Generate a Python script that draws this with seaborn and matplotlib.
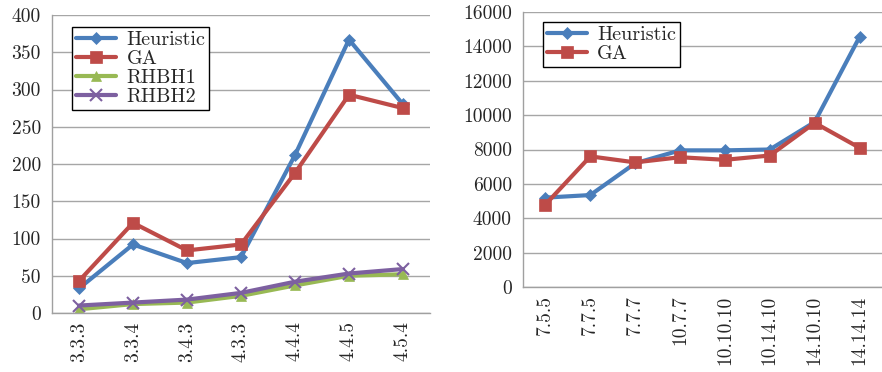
import numpy as np
import pandas as pd
import matplotlib
matplotlib.use("Agg")
import matplotlib.pyplot as plt
import seaborn as sns
from matplotlib.ticker import FixedLocator

# Left chart data
left_cats = ["3.3.3", "3.3.4", "3.4.3", "4.3.3", "4.4.4", "4.4.5", "4.5.4"]
left_heuristic = [33, 92, 67, 75, 212, 367, 280]
left_ga = [43, 121, 84, 92, 188, 293, 275]
left_rhbh1 = [5, 12, 14, 23, 37, 50, 52]
left_rhbh2 = [10, 14, 18, 27, 42, 53, 59]

# Right chart data
right_cats = ["7.5.5", "7.7.5", "7.7.7", "10.7.7", "10.10.10", "10.14.10", "14.10.10", "14.14.14"]
right_heuristic = [5200, 5350, 7200, 7950, 7950, 8000, 9600, 14550]
right_ga = [4800, 7600, 7250, 7550, 7400, 7650, 9550, 8100]

colors = {"Heuristic": "#4A7EBB", "GA": "#BE4B48", "RHBH1": "#98B954", "RHBH2": "#7D60A0"}
markers = {"Heuristic": "D", "GA": "s", "RHBH1": "^", "RHBH2": "x"}
msizes = {"Heuristic": 6, "GA": 8, "RHBH1": 7, "RHBH2": 8}

sns.set_style("white")
plt.rcParams["font.family"] = ["cmr10", "DejaVu Serif"]
plt.rcParams["axes.unicode_minus"] = False
plt.rcParams["mathtext.fontset"] = "cm"


def draw(ax, cats, series, ymax, ystep):
    rows = []
    for name, vals in series.items():
        for c, v in zip(cats, vals):
            rows.append({"cat": c, "value": v, "method": name})
    df = pd.DataFrame(rows)
    for name in series:
        sub = df[df["method"] == name]
        sns.lineplot(data=sub, x="cat", y="value", ax=ax, color=colors[name],
                     marker=markers[name], markersize=msizes[name], linewidth=3,
                     markeredgecolor=colors[name], markeredgewidth=1.5 if name == "RHBH2" else 0.5,
                     label=name, sort=False)
    n = len(cats)
    ax.set_xlim(-0.5, n - 0.5)
    ax.set_ylim(0, ymax)
    ax.set_yticks(np.arange(0, ymax + 1, ystep))
    ax.set_xticks(range(n))
    ax.set_xticklabels(cats, rotation=90, fontsize=14)
    ax.xaxis.set_minor_locator(FixedLocator(np.arange(-0.5, n, 1.0)))
    ax.tick_params(axis="x", which="major", length=0, pad=6)
    ax.tick_params(axis="x", which="minor", length=5, color="#A0A0A0", width=1)
    ax.tick_params(axis="y", length=5, color="#A0A0A0", labelsize=14, pad=3)
    ax.grid(axis="y", color="#A6A6A6", linewidth=1)
    ax.set_axisbelow(True)
    for s in ["top", "right"]:
        ax.spines[s].set_visible(False)
    for s in ["left", "bottom"]:
        ax.spines[s].set_color("#A0A0A0")
        ax.spines[s].set_linewidth(1)
    ax.set_xlabel("")
    ax.set_ylabel("")


fig = plt.figure(figsize=(8.82, 3.72), dpi=100)
ax1 = fig.add_axes([52 / 882, 1 - 313 / 372, (430 - 52) / 882, (313 - 15) / 372])
ax2 = fig.add_axes([523 / 882, 1 - 287 / 372, (882 - 523) / 882, (287 - 12) / 372])

draw(ax1, left_cats, {"Heuristic": left_heuristic, "GA": left_ga,
                      "RHBH1": left_rhbh1, "RHBH2": left_rhbh2}, 400, 50)
draw(ax2, right_cats, {"Heuristic": right_heuristic, "GA": right_ga}, 16000, 2000)

# legends anchored by top-left corner (in axes pixels)
for ax, top_left in [(ax1, (20 / 378, 1 - 12 / 298)), (ax2, (20 / 359, 1 - 10 / 275))]:
    leg = ax.legend(loc="upper left", bbox_to_anchor=top_left, fontsize=14.5, frameon=True,
                    fancybox=False, edgecolor="black", framealpha=1, borderpad=0.2,
                    labelspacing=0.05, handlelength=2.0, handletextpad=0.5, borderaxespad=0)
    leg.get_frame().set_linewidth(1)

fig.savefig("out.png", dpi=100)
